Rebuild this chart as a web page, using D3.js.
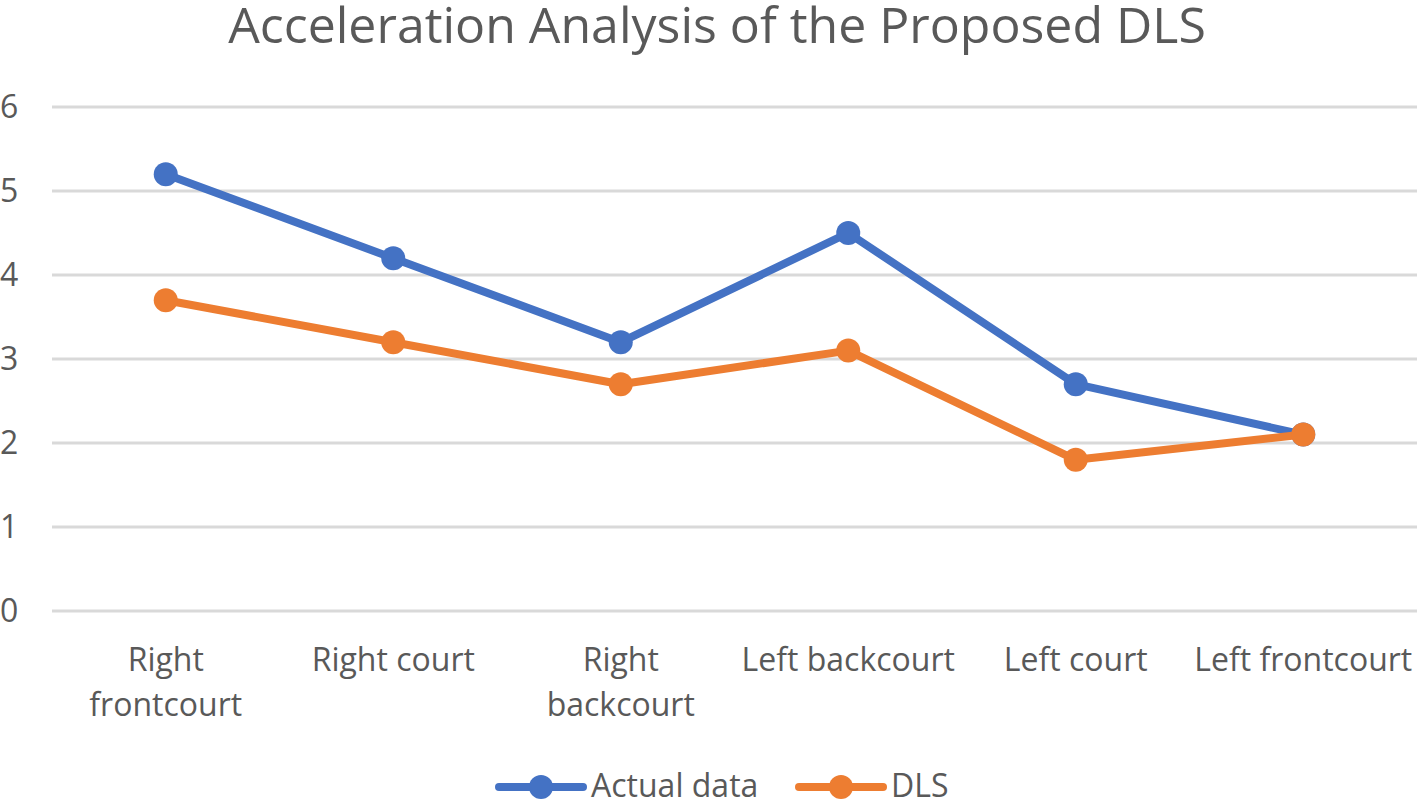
<!DOCTYPE html>
<html><head><meta charset="utf-8">
<script src="https://cdn.jsdelivr.net/npm/d3@7"></script>
<style>body{margin:0;background:#fff}svg{display:block}text{font-family:"Open Sans",sans-serif;fill:#595959}</style>
</head><body><svg id="c" width="1417" height="800"></svg>
<script>
const categories = [["Right","frontcourt"],["Right court"],["Right","backcourt"],["Left backcourt"],["Left court"],["Left frontcourt"]];
const actualData = [5.2, 4.2, 3.2, 4.5, 2.7, 2.1];
const dlsData = [3.7, 3.2, 2.7, 3.1, 1.8, 2.1];
const yTicks = [0,1,2,3,4,5,6];
const seriesNames = ["Actual data","DLS"];
const colors = ["#4472c4","#ed7d31"];

const svg = d3.select("#c");
const x = d3.scaleBand().domain(d3.range(categories.length)).range([52,1417]);
const y = d3.scaleLinear().domain([0,6]).range([611,107]);

svg.append("text").attr("x",717).attr("y",43).attr("text-anchor","middle")
  .attr("font-size",50).text("Acceleration Analysis of the Proposed DLS");

const g = svg.append("g");
g.selectAll("line.grid").data(yTicks).join("line").attr("class","grid")
  .attr("x1",52).attr("x2",1417).attr("y1",d=>y(d)).attr("y2",d=>y(d))
  .attr("stroke","#d9d9d9").attr("stroke-width",3);
g.selectAll("text.yl").data(yTicks).join("text").attr("class","yl")
  .attr("x",0).attr("y",d=>y(d)+11).attr("font-size",32).text(d=>d);

categories.forEach((c,i)=>{
  const t = svg.append("text").attr("text-anchor","middle").attr("font-size",32);
  c.forEach((s,j)=>t.append("tspan").attr("x",x(i)+x.bandwidth()/2).attr("y",671+j*45).text(s));
});

const line = d3.line().x((d,i)=>x(i)+x.bandwidth()/2).y(d=>y(d));
[actualData, dlsData].forEach((data,k)=>{
  svg.append("path").datum(data).attr("d",line).attr("fill","none")
    .attr("stroke",colors[k]).attr("stroke-width",8).attr("stroke-linejoin","round");
  svg.selectAll(null).data(data).join("circle")
    .attr("cx",(d,i)=>x(i)+x.bandwidth()/2).attr("cy",d=>y(d)).attr("r",12).attr("fill",colors[k]);
});

const legX = [499, 799];
seriesNames.forEach((n,k)=>{
  const lg = svg.append("g");
  lg.append("line").attr("x1",legX[k]).attr("x2",legX[k]+84).attr("y1",787).attr("y2",787)
    .attr("stroke",colors[k]).attr("stroke-width",8).attr("stroke-linecap","round");
  lg.append("circle").attr("cx",legX[k]+42).attr("cy",787).attr("r",12).attr("fill",colors[k]);
  lg.append("text").attr("x",legX[k]+92).attr("y",797).attr("font-size",32).text(n);
});
</script></body></html>
